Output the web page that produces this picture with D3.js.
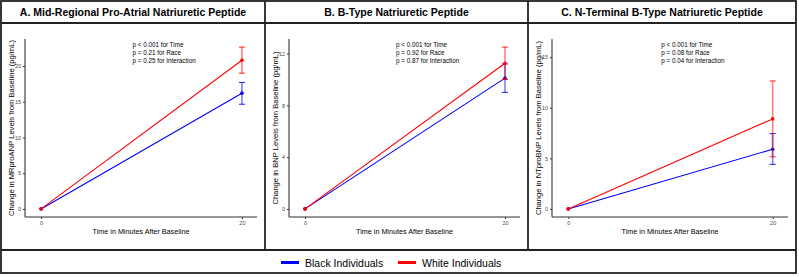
<html>
<head>
  <meta charset="utf-8">
  <title>Natriuretic peptides</title>
  <script src="https://cdn.jsdelivr.net/npm/d3@7"></script>
  <style>
    body { margin: 0; background: #fff; }
    svg { display: block; font-family: 'Liberation Sans', Arial, Helvetica, sans-serif; }
  </style>
</head>
<body>
  <div id="chart"></div>
<script>
  // data
  const times = [0, 20]
  const panelTitles = [
    "A. Mid-Regional Pro-Atrial Natriuretic Peptide",
    "B. B-Type Natriuretic Peptide",
    "C. N-Terminal B-Type Natriuretic Peptide"
  ]
  const yTitles = [
    "Change in MRproANP Levels from Baseline (pg/mL)",
    "Change in BNP Levels from Baseline (pg/mL)",
    "Change in NTproBNP Levels from Baseline (pg/mL)"
  ]
  const xTitle = "Time in Minutes After Baseline"
  const pTexts = [
    ["p < 0.001 for Time", "p = 0.21 for Race", "p = 0.25 for Interaction"],
    ["p < 0.001 for Time", "p = 0.92 for Race", "p = 0.87 for Interaction"],
    ["p < 0.001 for Time", "p = 0.08 for Race", "p = 0.04 for Interaction"]
  ]
  // mean change at 0 and 20 min, and error bar ends
  const blackMeans = [[0, 16.2], [0, 10.1], [0, 5.9]]
  const blackLow = [[0, 14.65], [0, 9.0], [0, 4.4]]
  const blackHigh = [[0, 17.7], [0, 11.2], [0, 7.45]]
  const whiteMeans = [[0, 20.8], [0, 11.25], [0, 8.9]]
  const whiteLow = [[0, 19.0], [0, 10.0], [0, 5.15]]
  const whiteHigh = [[0, 22.65], [0, 12.5], [0, 12.65]]
  const yTicks = [[0, 5, 10, 15, 20], [0, 4, 8, 12], [0, 5, 10, 15]]
  const yLimits = [[0, 22.65], [0, 12.5], [0, 16]]
  const seriesNames = ["Black Individuals", "White Individuals"]
  const seriesColors = ["#0000ff", "#ff0000"]

  const W = 799, H = 277
  const panelX = [[1, 265], [265, 528], [528, 796]]
  const frameTop = 1, titleB = 23, panelB = 250, legB = 273
  const plotTop = 39, plotBottom = 217

  const svg = d3.select("#chart").append("svg")
    .attr("width", W).attr("height", H)

  svg.append("rect").attr("width", W).attr("height", H).attr("fill", "#fff")

  panelX.forEach(([x0, x1], p) => {
    const g = svg.append("g")
    const left = x0 + 24, right = x1 - 8

    //title
    g.append("text")
      .attr("x", (x0 + x1) / 2).attr("y", 16)
      .attr("text-anchor", "middle")
      .attr("font-size", 10.5).attr("font-weight", "bold")
      .attr("fill", "#000")
      .text(panelTitles[p])

    const ext = yLimits[p][1] - yLimits[p][0]
    const y = d3.scaleLinear()
      .domain([yLimits[p][0] - ext * 0.05, yLimits[p][1] + ext * 0.05])
      .range([plotBottom, plotTop])
    const x = d3.scaleLinear().domain([-1.5, 21.5]).range([left + 1, right])

    //axes
    const ya = g.append("g").attr("transform", `translate(${left},0)`)
      .call(d3.axisLeft(y).tickValues(yTicks[p]).tickSize(2).tickPadding(2))
    const xa = g.append("g").attr("transform", `translate(0,${plotBottom})`)
      .call(d3.axisBottom(x).tickValues(times).tickSize(2).tickPadding(2))
    ;[ya, xa].forEach(a => {
      a.select(".domain").remove()
      a.selectAll("line").attr("stroke", "#333")
      a.selectAll("text").attr("fill", "#4d4d4d").attr("font-size", 5.5)
        .attr("font-family", "'Liberation Sans', Arial, sans-serif")
    })
    g.append("line").attr("x1", left).attr("x2", left)
      .attr("y1", plotTop).attr("y2", plotBottom)
      .attr("stroke", "#333").attr("stroke-width", 1.1)
    g.append("line").attr("x1", left).attr("x2", right)
      .attr("y1", plotBottom).attr("y2", plotBottom)
      .attr("stroke", "#333").attr("stroke-width", 1.1)

    //axis titles
    g.append("text")
      .attr("transform", `translate(${left - 14},${(plotTop + plotBottom) / 2}) rotate(-90)`)
      .attr("text-anchor", "middle").attr("dominant-baseline", "central")
      .attr("font-size", 7.6).attr("fill", "#000")
      .text(yTitles[p])
    g.append("text")
      .attr("x", (left + right) / 2).attr("y", 233.5)
      .attr("text-anchor", "middle")
      .attr("font-size", 7.2).attr("fill", "#000")
      .text(xTitle)

    //p values
    g.append("g").selectAll("text").data(pTexts[p]).join("text")
      .attr("x", x(9.1)).attr("y", (d, i) => 47 + i * 7.9)
      .attr("font-size", 6.3).attr("fill", "#000")
      .text(d => d)

    //series
    const series = [
      { m: blackMeans[p], lo: blackLow[p], hi: blackHigh[p], c: seriesColors[0] },
      { m: whiteMeans[p], lo: whiteLow[p], hi: whiteHigh[p], c: seriesColors[1] }
    ]
    series.forEach(s => {
      const line = d3.line().x((d, i) => x(times[i])).y(d => y(d))
      g.append("path").datum(s.m).attr("d", line)
        .attr("fill", "none").attr("stroke", s.c).attr("stroke-width", 1.1)
      const eb = g.append("g")
      times.forEach((t, i) => {
        if (s.hi[i] === s.lo[i]) return
        eb.append("line").attr("x1", x(t)).attr("x2", x(t))
          .attr("y1", y(s.lo[i])).attr("y2", y(s.hi[i]))
          .attr("stroke", s.c).attr("stroke-width", 1.6).attr("opacity", 0.5)
        ;[s.lo[i], s.hi[i]].forEach(v => {
          eb.append("line").attr("x1", x(t) - 3).attr("x2", x(t) + 3)
            .attr("y1", y(v)).attr("y2", y(v))
            .attr("stroke", s.c).attr("stroke-width", 1.1).attr("opacity", 0.8)
        })
      })
      g.append("g").selectAll("circle").data(s.m).join("circle")
        .attr("cx", (d, i) => x(times[i])).attr("cy", d => y(d))
        .attr("r", 1.8).attr("fill", s.c)
    })
  })

  //frames
  const frame = svg.append("g").attr("fill", "none").attr("stroke", "#222").attr("stroke-width", 1.8)
  frame.append("rect").attr("x", 1).attr("y", frameTop).attr("width", 795).attr("height", legB - frameTop)
  frame.append("line").attr("x1", 1).attr("x2", 796).attr("y1", titleB).attr("y2", titleB)
  frame.append("line").attr("x1", 1).attr("x2", 796).attr("y1", panelB).attr("y2", panelB)
  ;[265, 528].forEach(v => {
    frame.append("line").attr("x1", v).attr("x2", v).attr("y1", frameTop).attr("y2", panelB)
  })

  //legend
  const legX = [281, 398]
  const leg = svg.append("g").selectAll("g").data(seriesNames).join("g")
    .attr("transform", (d, i) => `translate(${legX[i]},262.5)`)
  leg.append("line").attr("x1", 0).attr("x2", 18)
    .attr("stroke", (d, i) => seriesColors[i]).attr("stroke-width", 3)
  leg.append("text").attr("x", 24).attr("y", 0)
    .attr("dominant-baseline", "central")
    .attr("font-size", 10.5).attr("fill", "#000")
    .text(d => d)
</script>
</body>
</html>
